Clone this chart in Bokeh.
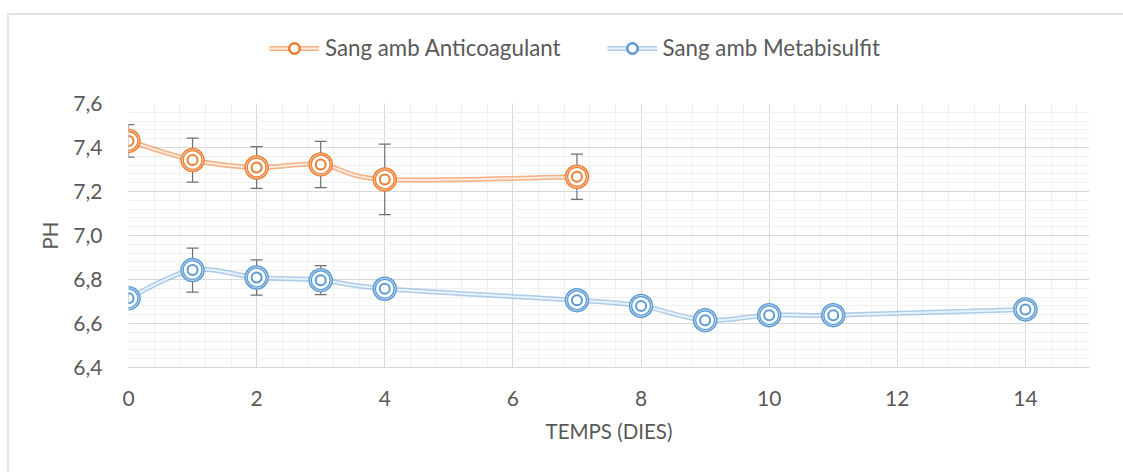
import numpy as np
from bokeh.plotting import figure
from bokeh.layouts import column
from bokeh.models import (ColumnDataSource, FixedTicker, Whisker, TeeHead,
                          Legend, LegendItem, Range1d)
from bokeh.embed import file_html
from bokeh.resources import INLINE

# ---- data ----
days_a = [0, 1, 2, 3, 4, 7]
ph_a = [7.43, 7.343, 7.309, 7.323, 7.255, 7.267]
err_a = [0.074, 0.10, 0.095, 0.105, 0.16, 0.103]

days_m = [0, 1, 2, 3, 4, 7, 8, 9, 10, 11, 14]
ph_m = [6.715, 6.843, 6.809, 6.797, 6.758, 6.706, 6.680, 6.615, 6.638, 6.638, 6.664]
err_m = [0.02, 0.10, 0.08, 0.066, 0.025, 0.02, 0.019, 0.01, 0.018, 0.015, 0.02]

name_a = "Sang amb Anticoagulant"
name_m = "Sang amb Metabisulfit"

x_ticks = [0, 2, 4, 6, 8, 10, 12, 14]
x_labels = ["0", "2", "4", "6", "8", "10", "12", "14"]
y_ticks = [6.4, 6.6, 6.8, 7.0, 7.2, 7.4, 7.6]
y_labels = ["6,4", "6,6", "6,8", "7,0", "7,2", "7,4", "7,6"]

x_title = "TEMPS (DIES)"
y_title = "PH"

ORANGE = "#ED7D31"
BLUE = "#5B9BD5"
TXT = "#595959"
FONT = "Lato"

p = figure(width=1114, height=369 + 12, output_backend="svg", toolbar_location=None,
           x_range=Range1d(0, 15), y_range=Range1d(6.4, 7.6),
           min_border_left=119, min_border_right=34, min_border_top=12,
           min_border_bottom=105)
p.outline_line_color = None
p.background_fill_color = "white"
p.border_fill_color = "white"

# ticks and grids
x_minor = list(np.round(np.arange(0, 15.01, 0.4), 3))
y_minor = list(np.round(np.arange(6.4, 7.601, 0.04), 3))
p.xaxis.ticker = FixedTicker(ticks=x_ticks, minor_ticks=x_minor)
p.yaxis.ticker = FixedTicker(ticks=y_ticks, minor_ticks=y_minor)
p.xaxis.major_label_overrides = dict(zip(x_ticks, x_labels))
p.yaxis.major_label_overrides = dict(zip(y_ticks, y_labels))

p.xgrid.grid_line_color = "#d9d9d9"
p.ygrid.grid_line_color = "#d9d9d9"
p.xgrid.minor_grid_line_color = "#f0f0f0"
p.ygrid.minor_grid_line_color = "#f0f0f0"

for ax in (p.xaxis, p.yaxis):
    ax.major_tick_line_color = None
    ax.minor_tick_line_color = None
    ax.major_label_text_color = TXT
    ax.major_label_text_font = FONT
    ax.major_label_text_font_size = "21px"
    ax.axis_label_text_color = TXT
    ax.axis_label_text_font = FONT
    ax.axis_label_text_font_size = "20.5px"
    ax.axis_label_text_font_style = "normal"
p.xaxis.axis_line_color = "#d9d9d9"
p.yaxis.axis_line_color = None
p.xaxis.major_label_standoff = 17
p.yaxis.major_label_standoff = 20
p.xaxis.axis_label = x_title
p.yaxis.axis_label = y_title
p.xaxis.axis_label_standoff = 10
p.yaxis.axis_label_standoff = 8


def smooth_segments(xs, ys):
    n = len(xs)
    x0, y0, x1, y1, cx0, cy0, cx1, cy1 = ([] for _ in range(8))
    for i in range(n - 1):
        pm = i - 1 if i > 0 else i
        pp = i + 2 if i + 2 < n else i + 1
        x0.append(xs[i]); y0.append(ys[i])
        x1.append(xs[i + 1]); y1.append(ys[i + 1])
        cx0.append(xs[i] + (xs[i + 1] - xs[pm]) / 6)
        cy0.append(ys[i] + (ys[i + 1] - ys[pm]) / 6)
        cx1.append(xs[i + 1] - (xs[pp] - xs[i]) / 6)
        cy1.append(ys[i + 1] - (ys[pp] - ys[i]) / 6)
    return ColumnDataSource(dict(x0=x0, y0=y0, x1=x1, y1=y1,
                                 cx0=cx0, cy0=cy0, cx1=cx1, cy1=cy1))


def draw_series(xs, ys, errs, color, line_alpha):
    seg = smooth_segments(xs, ys)
    p.bezier("x0", "y0", "x1", "y1", "cx0", "cy0", "cx1", "cy1", source=seg,
             line_color=color, line_width=5, line_alpha=line_alpha)
    p.bezier("x0", "y0", "x1", "y1", "cx0", "cy0", "cx1", "cy1", source=seg,
             line_color="white", line_width=2, line_alpha=0.75)
    src = ColumnDataSource(dict(x=xs, y=ys,
                                upper=[v + e for v, e in zip(ys, errs)],
                                lower=[v - e for v, e in zip(ys, errs)]))
    p.scatter("x", "y", source=src, size=21, marker="circle",
              fill_color="white", line_color=color, line_width=3.5)
    p.scatter("x", "y", source=src, size=21, marker="circle",
              fill_color=None, line_color="white", line_width=1, line_alpha=0.6)
    p.scatter("x", "y", source=src, size=10, marker="circle",
              fill_color=None, line_color=color, line_width=2)
    w = Whisker(source=src, base="x", upper="upper", lower="lower",
                line_color="#707070", line_width=1.2,
                upper_head=TeeHead(size=12, line_color="#707070", line_width=1.2),
                lower_head=TeeHead(size=12, line_color="#707070", line_width=1.2))
    p.add_layout(w)


draw_series(days_a, ph_a, err_a, ORANGE, 0.6)
draw_series(days_m, ph_m, err_m, BLUE, 0.5)

# ---- legend strip (separate figure above the plot; its ranges show no data) ----
lf = figure(width=1114, height=76, output_backend="svg", toolbar_location=None,
            x_range=Range1d(100, 101), y_range=Range1d(100, 101),
            x_axis_type=None, y_axis_type=None,
            min_border_left=119, min_border_right=34, min_border_top=0,
            min_border_bottom=0)
lf.outline_line_color = None
lf.xgrid.visible = False
lf.ygrid.visible = False
lf.background_fill_color = "white"
lf.border_fill_color = "white"


def legend_renderers(xs, ys, color, line_alpha):
    src = ColumnDataSource(dict(x=xs, y=ys))
    l1 = lf.line("x", "y", source=src, line_color=color, line_width=5, line_alpha=line_alpha)
    l2 = lf.line("x", "y", source=src, line_color="white", line_width=2, line_alpha=0.75)
    m1 = lf.scatter("x", "y", source=src, size=14, marker="circle",
                    fill_color="white", line_color=color, line_width=2.5)
    m2 = lf.scatter("x", "y", source=src, size=6, marker="circle",
                    fill_color=None, line_color=color, line_width=1.5)
    return [l1, l2, m1, m2]


ra = legend_renderers(days_a, ph_a, ORANGE, 0.6)
rm = legend_renderers(days_m, ph_m, BLUE, 0.5)

legend = Legend(items=[LegendItem(label=name_a, renderers=ra),
                       LegendItem(label=name_m, renderers=rm)],
                orientation="horizontal", location=(141, 30),
                glyph_width=50, glyph_height=26, label_standoff=6, spacing=46,
                padding=0, margin=0, border_line_color=None,
                background_fill_alpha=0,
                label_text_font=FONT, label_text_font_size="22.3px",
                label_text_color=TXT)
lf.add_layout(legend, "center")

layout = column(lf, p, spacing=0)
layout.styles = {"margin-left": "7px", "margin-top": "13px",
                 "border-top": "2px solid #e3e3e3", "border-left": "2px solid #e3e3e3"}

open("out.html", "w").write(file_html(layout, INLINE))
